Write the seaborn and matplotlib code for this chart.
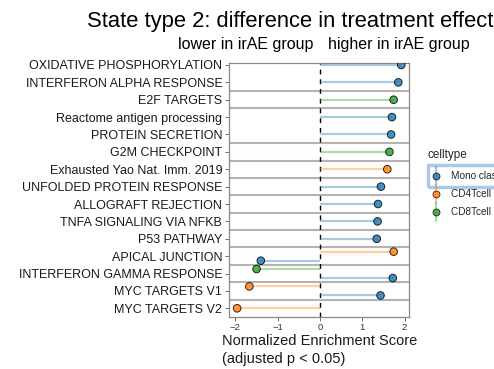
import numpy as np
import pandas as pd
import matplotlib
matplotlib.use("Agg")
import matplotlib.pyplot as plt
import seaborn as sns
from matplotlib.lines import Line2D
from matplotlib.patches import Rectangle

sns.set_theme(style="white")
plt.rcParams['font.family'] = ['Liberation Sans', 'DejaVu Sans']

# ---------------- data ----------------
labels = ["OXIDATIVE PHOSPHORYLATION", "INTERFERON ALPHA RESPONSE", "E2F TARGETS",
          "Reactome antigen processing", "PROTEIN SECRETION", "G2M CHECKPOINT",
          "Exhausted Yao Nat. Imm. 2019", "UNFOLDED PROTEIN RESPONSE", "ALLOGRAFT REJECTION",
          "TNFA SIGNALING VIA NFKB", "P53 PATHWAY", "APICAL JUNCTION",
          "INTERFERON GAMMA RESPONSE", "MYC TARGETS V1", "MYC TARGETS V2"]

point_pathway = labels[:11] + ["APICAL JUNCTION", "APICAL JUNCTION",
                               "INTERFERON GAMMA RESPONSE", "INTERFERON GAMMA RESPONSE",
                               "MYC TARGETS V1", "MYC TARGETS V1", "MYC TARGETS V2"]
point_celltype = ["Mono classical", "Mono classical", "CD8Tcell TEM", "Mono classical",
                  "Mono classical", "CD8Tcell TEM", "CD4Tcell naive", "Mono classical",
                  "Mono classical", "Mono classical", "Mono classical",
                  "CD4Tcell naive", "Mono classical", "CD8Tcell TEM", "Mono classical",
                  "CD4Tcell naive", "Mono classical", "CD4Tcell naive"]
nes = [1.92, 1.85, 1.74, 1.70, 1.68, 1.64, 1.59, 1.44, 1.37, 1.36, 1.34,
       1.74, -1.40, -1.50, 1.72, -1.67, 1.43, -1.96]

celltypes = ["Mono classical", "CD4Tcell naive", "CD8Tcell TEM"]
palette = {"Mono classical": "#1f77b4", "CD4Tcell naive": "#ff7f0e", "CD8Tcell TEM": "#2ca02c"}
separators_after = [1, 2, 4, 5, 6, 7, 8, 9, 10, 11, 12, 13]
x_ticks = [-2, -1, 0, 1, 2]

df = pd.DataFrame({"pathway": point_pathway, "celltype": point_celltype, "NES": nes})
row = {p: i for i, p in enumerate(labels)}
df["row"] = df["pathway"].map(row)
# dodge pathways with several celltypes
df["k"] = df.groupby("pathway").cumcount()
df["n"] = df.groupby("pathway")["pathway"].transform("size")
df["y"] = df["row"] + np.where(df["n"] > 1, (df["k"] - (df["n"] - 1) / 2) * 0.52, 0.0)

# ---------------- figure ----------------
W, H = 494, 369
fig = plt.figure(figsize=(W / 100, H / 100), dpi=100)
L, R, T, B = 229.3, 409.3, 62.7, 317
ax = fig.add_axes([L / W, 1 - B / H, (R - L) / W, (B - T) / H])

for y in separators_after:
    ax.axhline(y + 0.5, color="#b3b3b3", lw=1.5, zorder=1)
ax.axvline(0, color="black", lw=1.0, ls=(0, (3.5, 3.5)), zorder=2)

for _, r in df.iterrows():
    ax.plot([0, r["NES"]], [r["y"], r["y"]], color=palette[r["celltype"]],
            alpha=0.38, lw=1.6, solid_capstyle="butt", zorder=3)

sns.scatterplot(data=df, x="NES", y="y", hue="celltype", palette=palette,
                hue_order=celltypes, s=30, edgecolor="black", linewidth=0.7,
                alpha=0.82, legend=False, ax=ax, zorder=4)

ax.set_xlim(-2.145, 2.11)
ax.set_ylim(14.5, -0.13)
ax.set_yticks(range(len(labels)))
ax.set_yticklabels(labels, fontsize=9.0, color="#1a1a1a")
ax.set_xticks(x_ticks)
ax.set_xticklabels(["\u22122", "\u22121", "0", "1", "2"], fontsize=6.8, color="#333333")
ax.tick_params(axis="both", length=3, width=0.6, color="#555555", pad=2, left=True, bottom=True)
ax.tick_params(axis="x", pad=1.0)
for s in ax.spines.values():
    s.set_color("#888888")
    s.set_linewidth(0.9)
ax.set_ylabel("")
ax.set_xlabel("Normalized Enrichment Score\n(adjusted p < 0.05)", fontsize=10.5,
              multialignment="left", linespacing=1.3, labelpad=2, color="#1a1a1a")

# titles
fig.text(290.5 / W, 1 - 22 / H, "State type 2: difference in treatment effect",
         fontsize=15.8, ha="center", va="center", color="black")
fig.text(313 / W, 1 - 45 / H, "lower in irAE group", fontsize=11.5,
         ha="right", va="center", color="black")
fig.text(328 / W, 1 - 45 / H, "higher in irAE group", fontsize=11.5,
         ha="left", va="center", color="black")

# legend (manual)
fig.text(427 / W, 1 - 155 / H, "celltype", fontsize=8.5, ha="left", va="center")
ys = [176, 194.3, 211.7]
for ct, yy in zip(celltypes, ys):
    yf = 1 - yy / H
    fig.add_artist(Line2D([436 / W, 436 / W], [yf - 9 / H, yf + 9 / H], color=palette[ct],
                          alpha=0.4, lw=1.6, transform=fig.transFigure))
    fig.add_artist(Line2D([436 / W], [yf], marker="o", ms=5, color=palette[ct], mec="black",
                          mew=0.6, alpha=0.82, transform=fig.transFigure, ls="none"))
    fig.text(451 / W, yf, ct, fontsize=7.2, ha="left", va="center")
fig.add_artist(Rectangle((428 / W, 1 - 186.7 / H), 80 / W, 21.7 / H, fill=False,
                         edgecolor="#a9c9e6", lw=2.5, transform=fig.transFigure))

fig.savefig("out.png", dpi=100)
